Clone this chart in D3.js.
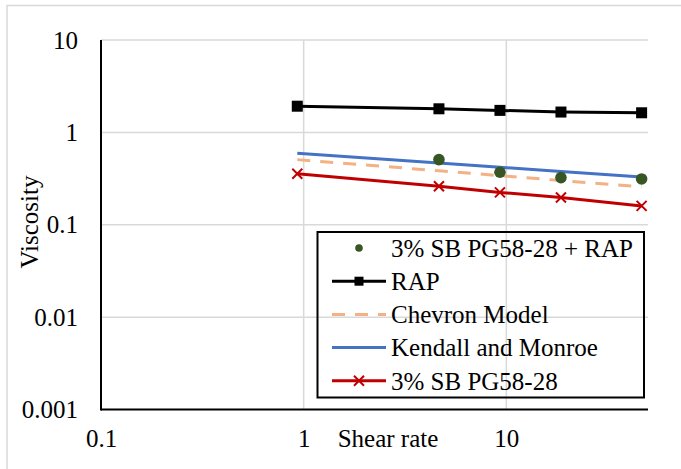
<!DOCTYPE html>
<html>
<head>
<script src="https://d3js.org/d3.v7.min.js"></script>
<style>
  body { margin: 0; background: #fff; }
  svg text { font-family: "Liberation Serif", "Times New Roman", serif; font-size: 25px; fill: #000; }
</style>
</head>
<body>
<svg id="chart" width="681" height="469"></svg>
<script>
// shear rates and viscosities
var shearRate = [0.93, 4.65, 9.3, 18.6, 46.5];
var rapVisc = [1.92, 1.80, 1.73, 1.66, 1.63];
var chevronVisc = [0.507, 0.384, 0.340, 0.301, 0.257];
var kendallVisc = [0.593, 0.466, 0.419, 0.377, 0.329];
var sbVisc = [0.357, 0.261, 0.224, 0.197, 0.160];
var sbRapRate = [4.65, 9.3, 18.6, 46.5];
var sbRapVisc = [0.507, 0.37, 0.324, 0.313];

var xTicks = [0.1, 1, 10];
var yTicks = [0.001, 0.01, 0.1, 1, 10];
var legendNames = ["3% SB PG58-28 + RAP", "RAP", "Chevron Model", "Kendall and Monroe", "3% SB PG58-28"];

var svg = d3.select("#chart");
var plotLeft = 101, plotRight = 648, plotTop = 40, plotBottom = 409.5;

var x = d3.scaleLog().domain([0.1, 50]).range([plotLeft, plotRight]);
var y = d3.scaleLog().domain([0.001, 10]).range([plotBottom, plotTop]);

// outer chart border
svg.append("rect")
  .attr("x", 7).attr("y", 5.5)
  .attr("width", 700).attr("height", 500)
  .attr("fill", "none").attr("stroke", "#d9d9d9").attr("stroke-width", 1.5);

// gridlines
svg.selectAll(".hgrid").data(yTicks.slice(1)).enter().append("line")
  .attr("x1", plotLeft).attr("x2", plotRight)
  .attr("y1", d => y(d)).attr("y2", d => y(d))
  .attr("stroke", "#d9d9d9").attr("stroke-width", 1.5);
svg.selectAll(".vgrid").data(xTicks.slice(1)).enter().append("line")
  .attr("x1", d => x(d)).attr("x2", d => x(d))
  .attr("y1", plotTop).attr("y2", plotBottom)
  .attr("stroke", "#d9d9d9").attr("stroke-width", 1.5);

// axes
svg.append("g").attr("transform", "translate(" + plotLeft + ",0)")
  .call(d3.axisLeft(y).tickValues(yTicks).tickSize(0).tickPadding(23).tickFormat(d => String(d)));
svg.append("g").attr("transform", "translate(0," + plotBottom + ")")
  .call(d3.axisBottom(x).tickValues(xTicks).tickSize(0).tickPadding(20).tickFormat(d => String(d)));
svg.selectAll(".domain").remove();
svg.selectAll(".tick text").attr("font-size", null).attr("font-family", null);
svg.selectAll("g[font-size]").attr("font-size", null).attr("font-family", null);

svg.append("line").attr("x1", plotLeft).attr("x2", plotLeft).attr("y1", plotTop).attr("y2", plotBottom + 1)
  .attr("stroke", "#000").attr("stroke-width", 2);
svg.append("line").attr("x1", plotLeft).attr("x2", plotRight).attr("y1", plotBottom).attr("y2", plotBottom)
  .attr("stroke", "#000").attr("stroke-width", 2);

// axis titles
svg.append("text").attr("x", 388).attr("y", 447).attr("text-anchor", "middle").text("Shear rate");
svg.append("text").attr("transform", "translate(38,222) rotate(-90)")
  .attr("text-anchor", "middle").text("Viscosity");

var line = d3.line().x(d => x(d[0])).y(d => y(d[1]));
function pairs(xs, ys) { return xs.map((v, i) => [v, ys[i]]); }

var colors = { rap: "#000", chevron: "#f4b183", kendall: "#4472c4", sb: "#c00000", sbRap: "#375623" };

// lines
svg.append("path").datum(pairs(shearRate, chevronVisc)).attr("d", line)
  .attr("fill", "none").attr("stroke", colors.chevron).attr("stroke-width", 3).attr("stroke-dasharray", "13,10");
svg.append("path").datum(pairs(shearRate, kendallVisc)).attr("d", line)
  .attr("fill", "none").attr("stroke", colors.kendall).attr("stroke-width", 3);
svg.append("path").datum(pairs(shearRate, sbVisc)).attr("d", line)
  .attr("fill", "none").attr("stroke", colors.sb).attr("stroke-width", 3);
svg.append("path").datum(pairs(shearRate, rapVisc)).attr("d", line)
  .attr("fill", "none").attr("stroke", colors.rap).attr("stroke-width", 3);

// markers
function square(g, cx, cy, s) {
  g.append("rect").attr("x", cx - s / 2).attr("y", cy - s / 2).attr("width", s).attr("height", s).attr("fill", colors.rap);
}
function cross(g, cx, cy) {
  g.append("path").attr("d", "M" + (cx - 5) + "," + (cy - 5) + "L" + (cx + 5) + "," + (cy + 5) +
    "M" + (cx - 5) + "," + (cy + 5) + "L" + (cx + 5) + "," + (cy - 5))
    .attr("stroke", colors.sb).attr("stroke-width", 2);
}
pairs(shearRate, rapVisc).forEach(p => square(svg, x(p[0]), y(p[1]), 11));
pairs(shearRate, sbVisc).forEach(p => cross(svg, x(p[0]), y(p[1])));
svg.selectAll(".dot").data(pairs(sbRapRate, sbRapVisc)).enter().append("circle")
  .attr("cx", d => x(d[0])).attr("cy", d => y(d[1])).attr("r", 5.8).attr("fill", colors.sbRap);

// legend
var lg = svg.append("g");
lg.append("rect").attr("x", 317.5).attr("y", 232).attr("width", 326.5).attr("height", 165.5)
  .attr("fill", "none").attr("stroke", "#000").attr("stroke-width", 2);
legendNames.forEach(function(name, i) {
  var cy = 248 + i * 33.2;
  var x1 = 332, x2 = 386, mx = 359;
  if (i === 0) {
    lg.append("circle").attr("cx", mx).attr("cy", cy).attr("r", 3.8).attr("fill", colors.sbRap);
  } else if (i === 1) {
    lg.append("line").attr("x1", x1).attr("x2", x2).attr("y1", cy).attr("y2", cy).attr("stroke", colors.rap).attr("stroke-width", 3);
    square(lg, mx, cy, 9);
  } else if (i === 2) {
    lg.append("line").attr("x1", x1).attr("x2", x2).attr("y1", cy).attr("y2", cy).attr("stroke", colors.chevron)
      .attr("stroke-width", 3).attr("stroke-dasharray", "13,10");
  } else if (i === 3) {
    lg.append("line").attr("x1", x1).attr("x2", x2).attr("y1", cy).attr("y2", cy).attr("stroke", colors.kendall).attr("stroke-width", 3);
  } else {
    lg.append("line").attr("x1", x1).attr("x2", x2).attr("y1", cy).attr("y2", cy).attr("stroke", colors.sb).attr("stroke-width", 3);
    cross(lg, mx, cy);
  }
  lg.append("text").attr("x", 391).attr("y", cy).attr("dy", "0.35em").text(name);
});
</script>
</body>
</html>
